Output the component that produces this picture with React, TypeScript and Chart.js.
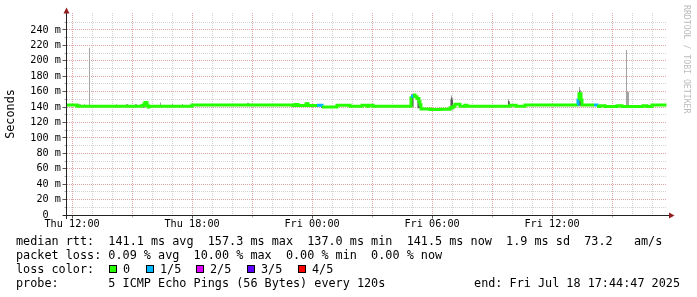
import React, { useEffect, useRef } from 'react';
import { Chart, registerables } from 'chart.js';

Chart.register(...registerables);

// ---------- data (hours counted from Thu 00:00) ----------
const END_HOUR = 41 + 44 / 60 + 47 / 3600; // Fri 17:44:47
const START_HOUR = END_HOUR - 30;
const Y_MAX = 262;

const xGridHours = [12, 13, 14, 15, 16, 17, 18, 19, 20, 21, 22, 23, 24, 25, 26, 27, 28, 29, 30, 31, 32, 33, 34, 35, 36, 37, 38, 39, 40, 41];
const xLabelHours = [12, 18, 24, 30, 36];
const xLabelTexts = ['Thu 12:00', 'Thu 18:00', 'Fri 00:00', 'Fri 06:00', 'Fri 12:00'];
const yGridValues = [0, 10, 20, 30, 40, 50, 60, 70, 80, 90, 100, 110, 120, 130, 140, 150, 160, 170, 180, 190, 200, 210, 220, 230, 240, 250];

// median rtt (ms), stepped; loss = lost pings out of 5
const medianHours = [11.746, 12.246, 15.496, 15.596, 15.646, 15.746, 15.796, 15.846, 17.996, 23.046, 23.146, 23.296, 23.696, 23.796, 24.246, 24.496, 25.246, 25.896, 26.496, 26.746, 26.846, 27.046, 28.946, 29.046, 29.146, 29.246, 29.346, 29.396, 29.446, 29.896, 30.446, 30.896, 31.046, 31.146, 31.396, 31.646, 31.746, 33.896, 34.196, 34.646, 37.246, 37.296, 37.346, 37.446, 37.496, 38.096, 38.246, 38.396, 38.646, 39.246, 39.496, 40.546, 40.746, 40.996, 41.72];
const medianValues = [142.6, 141.0, 142.0, 144.0, 146.0, 142.5, 140.2, 141.0, 142.6, 142.0, 143.2, 142.0, 144.2, 142.0, 142.4, 140.0, 142.4, 141.0, 142.3, 141.0, 142.3, 141.0, 154.0, 155.5, 153.5, 151.0, 147.0, 143.0, 137.4, 136.8, 137.2, 139.0, 141.0, 143.5, 141.0, 142.2, 141.0, 142.2, 141.0, 142.6, 144.0, 151.0, 157.3, 149.0, 142.6, 142.6, 140.6, 141.8, 140.6, 141.8, 140.6, 141.8, 140.6, 142.6, 142.6];
const medianLoss = [0, 0, 0, 0, 0, 0, 0, 0, 0, 0, 0, 0, 0, 0, 1, 0, 0, 0, 0, 0, 0, 0, 1, 0, 0, 0, 0, 0, 0, 0, 0, 0, 0, 0, 0, 0, 0, 0, 0, 0, 1, 0, 0, 0, 0, 1, 0, 0, 0, 0, 0, 0, 0, 0, 0];

// smoke: outer band (ping 1..5) and inner band (ping 2..4)
const outerHours = [12.321, 12.371, 12.421, 12.621, 12.871, 14.221, 14.721, 14.771, 15.171, 15.221, 16.421, 17.021, 17.521, 20.771, 20.821, 23.721, 23.771, 28.971, 29.021, 29.071, 29.271, 29.321, 29.371, 29.421, 30.921, 30.971, 31.021, 33.821, 33.871, 37.321, 37.371, 37.421, 39.721, 39.771, 39.821];
const outerLow = [141, 141, 141, 141, 140.5, 141, 141, 141, 141, 141, 141, 141, 141, 142, 142, 142, 142, 140, 140, 140, 138, 138, 138, 138, 136, 136, 136, 140, 140, 141, 141, 141, 141, 141, 141];
const outerHigh = [144, 144, 143.5, 143.8, 217, 143.8, 144, 144, 144, 144, 146, 144, 144, 145.5, 145.5, 146.5, 146.5, 157, 157, 156, 153, 153, 151, 149, 150, 155, 152, 150, 148, 158, 166, 162, 214, 160, 160];
const innerHours = [15.571, 15.621, 15.821, 23.771, 24.471, 28.971, 29.021, 29.321, 29.371, 29.421, 30.971, 31.021, 33.821, 33.871, 37.321, 37.371, 37.421, 38.271];
const innerLow = [139.5, 139.5, 138.5, 141, 139, 141, 141, 139, 139, 139, 138, 138, 141, 141, 142, 142, 142, 139];
const innerHigh = [142, 142, 141, 144, 141.5, 155, 154, 151, 150, 147, 152, 149, 148, 146, 156, 161, 158, 141];

const lossLabels = ['0', '1/5', '2/5', '3/5', '4/5'];
const lossColors = ['#26ff00', '#00b8ff', '#dd00ff', '#5e00ff', '#ff0000'];

const statsLine = 'median rtt:  141.1 ms avg  157.3 ms max  137.0 ms min  141.5 ms now  1.9 ms sd  73.2   am/s';
const lossLine = 'packet loss: 0.09 % avg  10.00 % max  0.00 % min  0.00 % now';
const lossColorTitle = 'loss color:';
const probeLine = 'probe:       5 ICMP Echo Pings (56 Bytes) every 120s';
const endLine = 'end: Fri Jul 18 17:44:47 2025';
const yTitle = 'Seconds';
const watermark = 'RRDTOOL / TOBI OETIKER';

// ---------- styles ----------
const MONO = "'DejaVu Sans Mono', monospace";
const MAJOR_GRID = '#e0a2a2';
const MINOR_GRID = '#d2d2d2';
const AXIS_COLOR = '#222222';
const ARROW_COLOR = '#8f1e1e';
const CHAR_W = 7.1;

const axesPlugin = {
  id: 'rrdAxes',
  afterDatasetsDraw(chart: any) {
    const { ctx, chartArea: a } = chart;
    const ys = chart.scales.y;
    const xs = chart.scales.x;
    const axX = a.left - 0.5;
    const axY = a.bottom + 0.5;
    ctx.save();
    ctx.lineWidth = 1;
    yGridValues.forEach((v) => {
      const py = Math.round(ys.getPixelForValue(v) - 0.5) + 0.5;
      const major = v % 20 === 0;
      ctx.strokeStyle = major ? '#555' : '#aaa';
      ctx.beginPath();
      ctx.moveTo(axX - (major ? 4 : 2), py);
      ctx.lineTo(axX, py);
      ctx.stroke();
    });
    xGridHours.forEach((h) => {
      if (h % 3 !== 0) return;
      const px = Math.round(xs.getPixelForValue(h) - 0.5) + 0.5;
      const major = h % 6 === 0;
      ctx.strokeStyle = major ? '#555' : '#aaa';
      ctx.beginPath();
      ctx.moveTo(px, axY);
      ctx.lineTo(px, axY + (major ? 3 : 2));
      ctx.stroke();
    });
    ctx.strokeStyle = AXIS_COLOR;
    ctx.beginPath();
    ctx.moveTo(axX, a.bottom + 4);
    ctx.lineTo(axX, a.top - 1);
    ctx.moveTo(a.left - 4, axY);
    ctx.lineTo(a.right + 2, axY);
    ctx.stroke();
    ctx.fillStyle = ARROW_COLOR;
    ctx.beginPath();
    ctx.moveTo(axX - 3, a.top + 0.5);
    ctx.lineTo(axX + 3, a.top + 0.5);
    ctx.lineTo(axX, a.top - 5.5);
    ctx.closePath();
    ctx.fill();
    ctx.beginPath();
    ctx.moveTo(a.right + 2, axY - 3);
    ctx.lineTo(a.right + 2, axY + 3);
    ctx.lineTo(a.right + 7.5, axY);
    ctx.closePath();
    ctx.fill();
    ctx.restore();
  },
};

export default function App() {
  const canvasRef = useRef<HTMLCanvasElement>(null);

  useEffect(() => {
    const canvas = canvasRef.current;
    if (!canvas) return;
    const chart = new Chart(canvas, {
      type: 'bar',
      data: {
        datasets: [
          {
            type: 'line',
            label: 'median',
            data: medianHours.map((h, i) => ({ x: h, y: medianValues[i] })),
            borderColor: lossColors[0],
            borderWidth: 3,
            pointRadius: 0,
            stepped: true,
            tension: 0,
            borderCapStyle: 'butt',
            borderJoinStyle: 'miter',
            segment: {
              borderColor: (c: any) => lossColors[medianLoss[c.p0DataIndex]] || lossColors[0],
            },
            order: 0,
          } as any,
          {
            type: 'bar',
            label: 'smoke inner',
            data: innerHours.map((h, i) => ({ x: h, y: [innerLow[i], innerHigh[i]] })),
            backgroundColor: '#585858',
            barThickness: 1,
            inflateAmount: 0,
            borderWidth: 0,
            stack: 'smoke',
            order: 1,
          } as any,
          {
            type: 'bar',
            label: 'smoke outer',
            data: outerHours.map((h, i) => ({ x: h, y: [outerLow[i], outerHigh[i]] })),
            backgroundColor: '#a4a4a4',
            barThickness: 1,
            inflateAmount: 0,
            borderWidth: 0,
            stack: 'smoke',
            order: 2,
          } as any,
        ],
      },
      options: {
        responsive: false,
        maintainAspectRatio: false,
        animation: false,
        devicePixelRatio: 1,
        events: [],
        layout: { autoPadding: false, padding: { left: 0, top: 13, right: 30, bottom: 62 } },
        plugins: { legend: { display: false }, tooltip: { enabled: false } },
        scales: {
          x: {
            type: 'linear',
            min: START_HOUR,
            max: END_HOUR,
            offset: false,
            afterBuildTicks: (s: any) => {
              s.ticks = xGridHours.map((v) => ({ value: v }));
            },
            afterFit: (s: any) => {
              s.height = 20;
            },
            grid: {
              offset: false,
              drawTicks: false,
              lineWidth: 1,
              color: (c: any) => (c.tick && c.tick.value % 3 === 0 ? MAJOR_GRID : MINOR_GRID),
            },
            border: { display: false, dash: [1, 1] },
            ticks: {
              autoSkip: false,
              maxRotation: 0,
              minRotation: 0,
              padding: 3,
              color: '#000',
              font: { family: MONO, size: 10.2 },
              callback: (v: any) => {
                const idx = xLabelHours.indexOf(Number(v));
                return idx >= 0 ? xLabelTexts[idx] : '';
              },
            },
          },
          y: {
            type: 'linear',
            min: 0,
            max: Y_MAX,
            stacked: false,
            afterBuildTicks: (s: any) => {
              s.ticks = yGridValues.map((v) => ({ value: v }));
            },
            afterFit: (s: any) => {
              s.width = 67;
            },
            grid: {
              drawTicks: false,
              lineWidth: 1,
              color: (c: any) => (c.tick && c.tick.value % 20 === 0 ? MAJOR_GRID : MINOR_GRID),
            },
            border: { display: false, dash: [1, 1] },
            title: {
              display: true,
              text: yTitle,
              color: '#000',
              font: { family: MONO, size: 11.8 },
              padding: { top: 4, bottom: 0 },
            },
            ticks: {
              autoSkip: false,
              padding: 6,
              color: '#000',
              font: { family: MONO, size: 10.2 },
              callback: (v: any) => {
                const n = Number(v);
                if (n % 20 !== 0) return '';
                return n === 0 ? '0  ' : `${n} m`;
              },
            },
          },
        },
      } as any,
      plugins: [axesPlugin],
    });
    return () => chart.destroy();
  }, []);

  const text: React.CSSProperties = {
    position: 'absolute',
    fontFamily: MONO,
    fontSize: '11.8px',
    lineHeight: '14px',
    whiteSpace: 'pre',
    color: '#000',
    margin: 0,
  };

  const legendItems: { boxX: number; textX: number }[] = [];
  let cursor = 109;
  lossLabels.forEach((l) => {
    legendItems.push({ boxX: cursor, textX: cursor + 14 });
    cursor = cursor + 14 + l.length * CHAR_W + 15.5;
  });

  return (
    <div style={{ position: 'fixed', left: 0, top: 0, width: 697, height: 297, background: '#fff', overflow: 'hidden' }}>
      <canvas ref={canvasRef} width={697} height={297} style={{ position: 'absolute', left: 0, top: 0, width: 697, height: 297 }} />
      <div style={{ ...text, left: 16, top: 234 }}>{statsLine}</div>
      <div style={{ ...text, left: 16, top: 248 }}>{lossLine}</div>
      <div style={{ ...text, left: 16, top: 262 }}>{lossColorTitle}</div>
      {lossLabels.map((l, i) => (
        <React.Fragment key={l}>
          <div
            style={{
              position: 'absolute',
              left: Math.round(legendItems[i].boxX),
              top: 265,
              width: 8,
              height: 8,
              boxSizing: 'border-box',
              border: '1px solid #000',
              background: lossColors[i],
            }}
          />
          <div style={{ ...text, left: Math.round(legendItems[i].textX), top: 262 }}>{l}</div>
        </React.Fragment>
      ))}
      <div style={{ ...text, left: 16, top: 276 }}>{probeLine}</div>
      <div style={{ ...text, right: 17, top: 276 }}>{endLine}</div>
      <div
        style={{
          position: 'absolute',
          left: 682,
          top: 5,
          writingMode: 'vertical-rl',
          fontFamily: MONO,
          fontSize: '8.2px',
          lineHeight: '9px',
          whiteSpace: 'pre',
          color: '#bcbcbc',
        }}
      >
        {watermark}
      </div>
    </div>
  );
}
